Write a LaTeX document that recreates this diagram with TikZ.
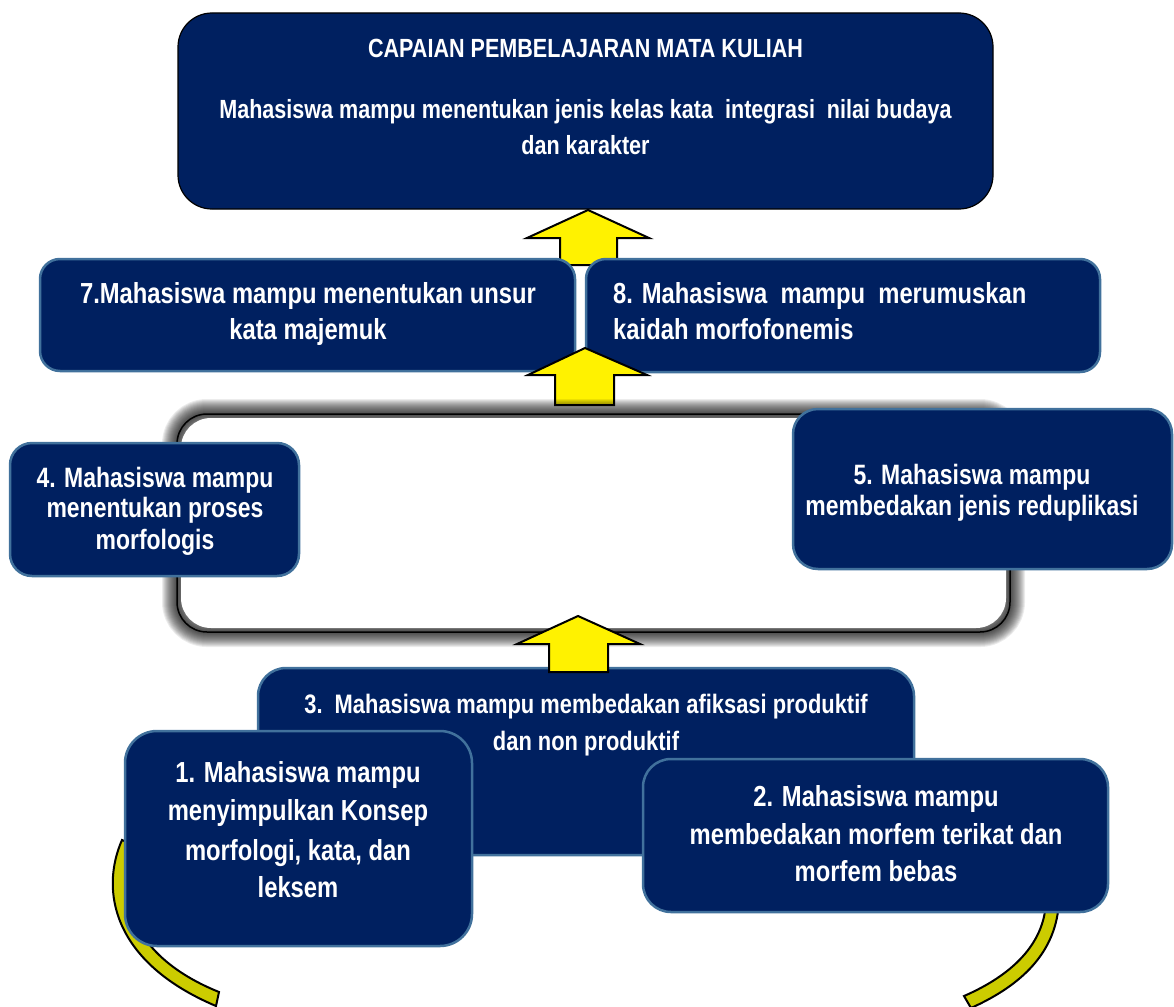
\documentclass[tikz,border=0pt]{standalone}
\usepackage{fontspec}
\setmainfont{Liberation Sans}[FakeStretch=0.82]
\definecolor{navy}{RGB}{0,32,96}
\definecolor{boxedge}{RGB}{65,113,156}
\definecolor{olive}{RGB}{204,204,0}
\begin{document}
\begin{tikzpicture}[x=1pt,y=-1pt,
  navybox/.style={rectangle, draw=boxedge, line width=2.5pt, fill=navy, inner sep=0pt},
  topbox/.style={rectangle, draw=black, line width=1.2pt, fill=navy, inner sep=0pt},
  txt/.style={text=white, inner sep=0pt, anchor=base, font=\bfseries\fontsize{#1}{#1}\selectfont},
  txt/.default=29,
  blockarrow/.style={draw=black, line width=2pt, fill=yellow, line join=miter},
  band/.style={draw=black, line width=2pt, fill=olive, line join=miter},
  glow/.style={draw=black, line width=#1, draw opacity=0.075, rounded corners=30pt}
]
\useasboundingbox (0,0) rectangle (1174,1006);

% top box
\node[topbox, rounded corners=34pt, minimum width=815pt, minimum height=196pt] (cpmk) at (585.5,111) {};
\node[txt=26.3] (cpmka) at (585.5,58) {CAPAIAN PEMBELAJARAN MATA KULIAH};
\node[txt=26.3] (cpmkb) at (585.5,119) {Mahasiswa mampu menentukan jenis kelas kata\ \ integrasi\ \ nilai budaya};
\node[txt=26.3] (cpmkc) at (585.5,154) {dan karakter};

% arrow 1
\coordinate (a1) at (588,210);
\draw[blockarrow] (a1) -- (649,238) -- (617,238) -- (617,265) -- (560,265) -- (560,238) -- (527,238) -- cycle;

% boxes 7 and 8
\node[navybox, rounded corners=20pt, minimum width=535pt, minimum height=112pt] (b7) at (307.5,315) {};
\node[txt] (b7a) at (308,303) {7.Mahasiswa mampu menentukan unsur};
\node[txt] (b7b) at (308,339) {kata majemuk};
\node[navybox, rounded corners=20pt, minimum width=514pt, minimum height=113pt] (b8) at (843,315.5) {};
\node[txt, anchor=base west] (b8a) at (613,303) {8. Mahasiswa\ \ mampu\ \ merumuskan};
\node[txt, anchor=base west] (b8b) at (613,339) {kaidah morfofonemis};

% arrow 2
\coordinate (a2) at (585,348);
\draw[blockarrow] (a2) -- (647,375) -- (614,375) -- (614,405) -- (555,405) -- (555,375) -- (528,375) -- cycle;

% shadowed frame
\foreach \w in {30,28,...,2} {
  \draw[glow=\w pt] (177,414) rectangle (1010,632);
}
\fill[white, rounded corners=30pt] (181,418) rectangle (1006,628);
\draw[black, line width=1.5pt, rounded corners=30pt] (177,414) rectangle (1010,632);

% boxes 4 and 5
\node[navybox, rounded corners=22pt, minimum width=289pt, minimum height=133pt] (b4) at (154.5,509.5) {};
\node[txt=28] (b4a) at (155,487) {4. Mahasiswa mampu};
\node[txt=28] (b4b) at (155,517) {menentukan proses};
\node[txt=28] (b4c) at (155,549) {morfologis};
\node[navybox, rounded corners=25pt, minimum width=379pt, minimum height=160pt] (b5) at (982.5,489) {};
\node[txt=28] (b5a) at (972,484) {5. Mahasiswa mampu};
\node[txt=28] (b5b) at (972,515) {membedakan jenis reduplikasi};

% box 3
\node[navybox, rounded corners=28pt, minimum width=656pt, minimum height=187pt] (b3) at (586,761.5) {};
\node[txt=26.7] (b3a) at (586,713) {3.\ \ Mahasiswa mampu membedakan afiksasi produktif};
\node[txt=26.7] (b3b) at (586,750) {dan non produktif};

% arrow 3
\coordinate (a3) at (578,616);
\draw[blockarrow] (a3) -- (640,644) -- (608,644) -- (608,672) -- (549,672) -- (549,644) -- (517,644) -- cycle;

% curved bands
\draw[band] (122,840) .. controls (100,890) and (112,962) .. (216,1006)
  -- (219,992) .. controls (135,958) and (114,900) .. (134,845) -- cycle;
\draw[band] (1059,900) .. controls (1057,952) and (1022,985) .. (971,1008)
  -- (964,996) .. controls (1010,976) and (1045,945) .. (1046,900) -- cycle;

% boxes 1 and 2
\node[navybox, rounded corners=32pt, minimum width=347pt, minimum height=215pt] (b1) at (298.5,838.5) {};
\node[txt] (b1a) at (298,782) {1. Mahasiswa mampu};
\node[txt] (b1b) at (298,820) {menyimpulkan Konsep};
\node[txt] (b1c) at (298,860) {morfologi, kata, dan};
\node[txt] (b1d) at (298,897) {leksem};
\node[navybox, rounded corners=28pt, minimum width=465pt, minimum height=153pt] (b2) at (875.5,835.5) {};
\node[txt] (b2a) at (876,806) {2. Mahasiswa mampu};
\node[txt] (b2b) at (876,844) {membedakan morfem terikat dan};
\node[txt] (b2c) at (876,881) {morfem bebas};
\end{tikzpicture}
\end{document}
